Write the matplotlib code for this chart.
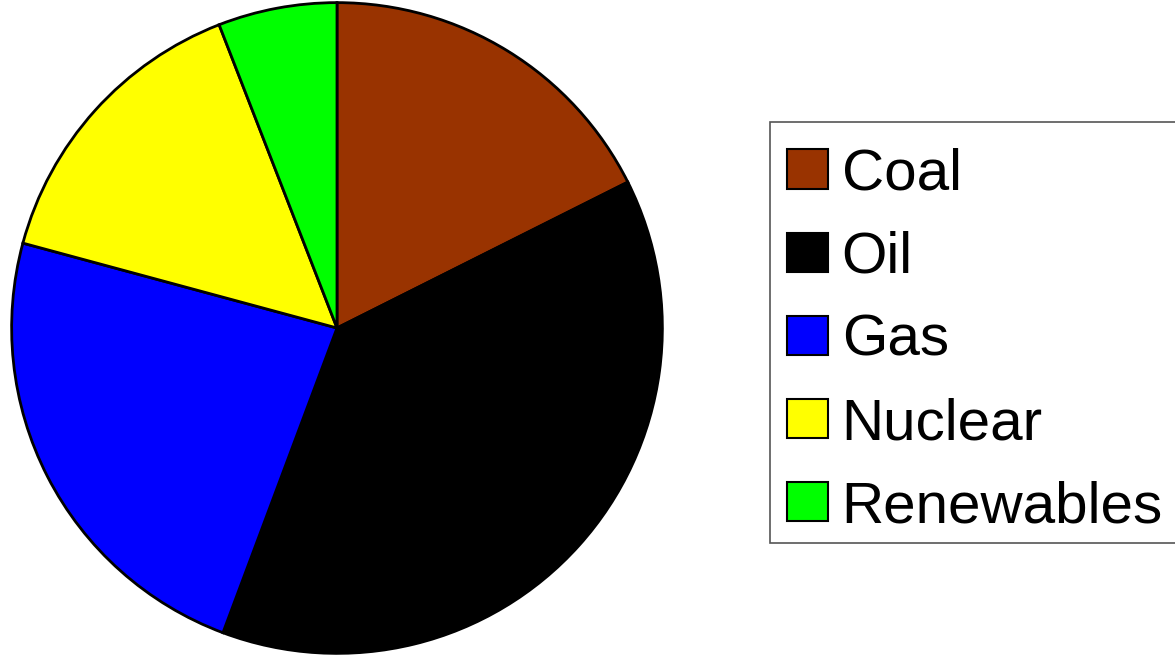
import matplotlib
matplotlib.use("Agg")
import matplotlib.pyplot as plt
from matplotlib.patches import Rectangle

plt.rcParams['font.family'] = ['Liberation Sans', 'DejaVu Sans']

labels = ["Coal", "Oil", "Gas", "Nuclear", "Renewables"]
values = [17.6, 38.1, 23.5, 14.9, 5.9]
colors = ["#993300", "#000000", "#0000FF", "#FFFF00", "#00FF00"]

W, H = 1175, 656
fig = plt.figure(figsize=(W / 100, H / 100), dpi=100)
ax = fig.add_axes([10 / W, 1 / H, 654 / W, 654 / H])
wedges, _ = ax.pie(values, colors=colors, startangle=90, counterclock=False,
                   radius=1.0,
                   wedgeprops=dict(edgecolor="black", linewidth=2))
ax.set_xlim(-1.005, 1.005)
ax.set_ylim(-1.005, 1.005)
ax.set_aspect("equal")
ax.axis("off")

# legend frame
fig.patches.append(Rectangle((770 / W, 1 - 543 / H), 420 / W, (543 - 122) / H,
                             transform=fig.transFigure, facecolor="white",
                             edgecolor="#555555", linewidth=1.2, zorder=0))

leg = fig.legend(wedges, labels, loc="upper left",
                 bbox_to_anchor=(770 / W, 1 - 130 / H),
                 bbox_transform=fig.transFigure,
                 fontsize=42, frameon=False,
                 borderaxespad=0, borderpad=0.3,
                 handlelength=0.7, handleheight=0.66,
                 handletextpad=0.23, labelspacing=0.5)
for h in leg.legend_handles:
    h.set_linewidth(1.5)
    h.set_edgecolor("black")

fig.savefig("out.png", dpi=100)
